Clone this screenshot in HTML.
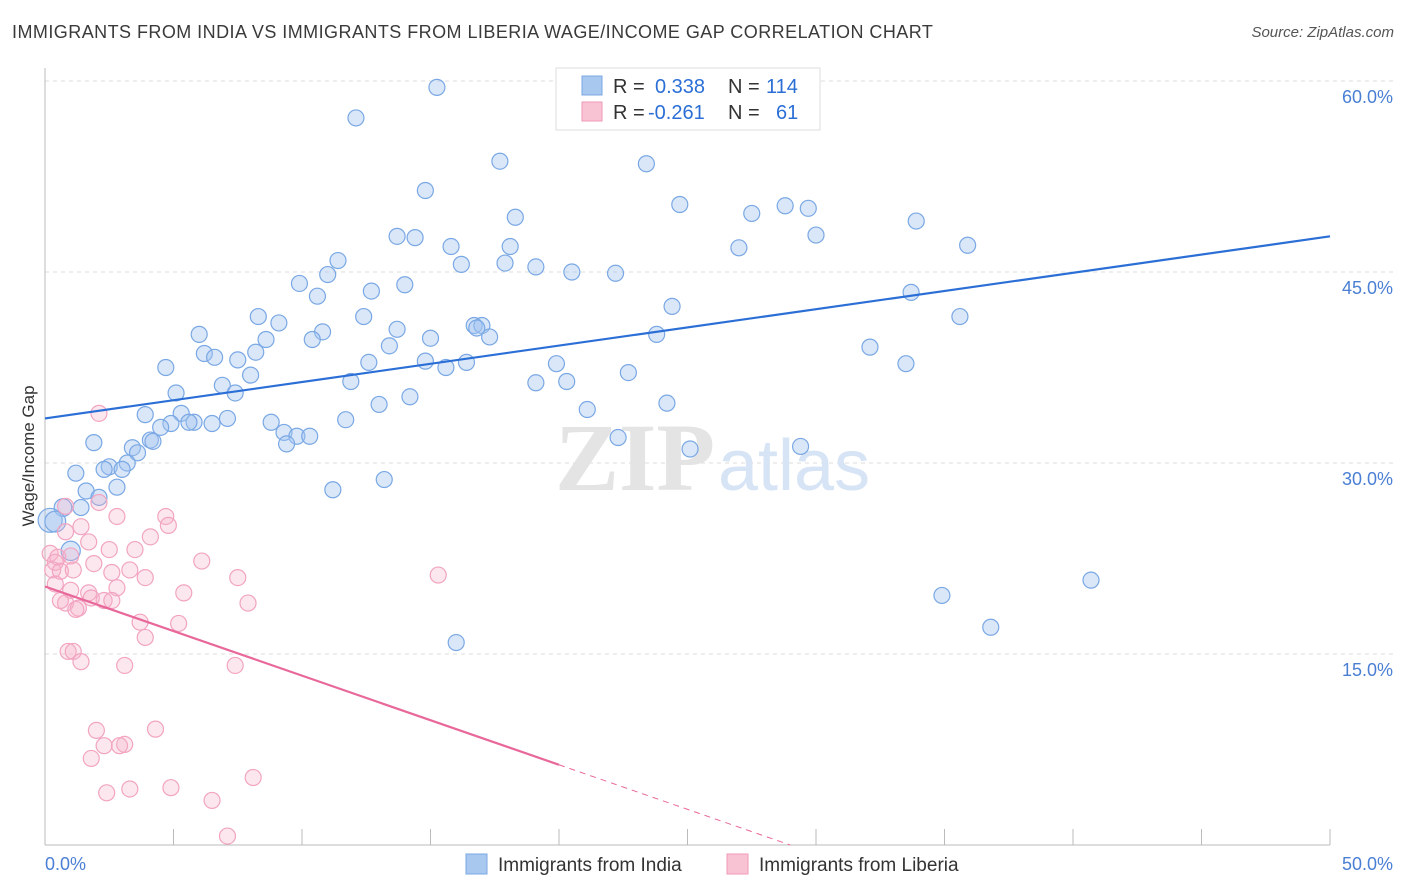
<!DOCTYPE html>
<html><head><meta charset="utf-8"><style>
body{margin:0;background:#fff;font-family:"Liberation Sans",sans-serif;}
#wrap{position:relative;width:1406px;height:892px;overflow:hidden;}
.t{position:absolute;white-space:nowrap;}
</style></head><body>
<div id="wrap">
<div class="t" style="left:12px;top:22px;font-size:18px;letter-spacing:0.45px;color:#3a3a3a;">IMMIGRANTS FROM INDIA VS IMMIGRANTS FROM LIBERIA WAGE/INCOME GAP CORRELATION CHART</div>
<div class="t" style="right:12px;top:24px;font-size:15px;color:#555;font-style:italic;">Source: ZipAtlas.com</div>
<svg id="svg" width="1406" height="892" style="position:absolute;left:0;top:0"></svg>
</div>
<script>
const xTicks=[0,5,10,15,20,25,30,35,40,45,50];
const yTicks=[15,30,45,60];
const indiaX=[15.25,12.1,17.7,23.4,14.8,24.7,18.3,27.5,28.8,29.7,33.9,13.7,14.4,15.8,18.1,30.0,27.0,35.9,16.2,17.9,19.1,20.5,22.2,11.4,11.0,9.9,10.6,12.7,14.0,33.7,24.4,35.6,8.3,9.1,12.4,13.7,10.8,10.4,15.0,16.7,17.0,16.8,17.3,23.8,6.0,8.6,13.4,6.2,6.6,8.2,32.1,7.5,12.6,14.8,15.6,16.4,19.9,33.5,4.7,8.0,11.9,6.9,19.1,20.3,22.7,5.1,7.4,14.2,13.0,21.1,24.2,3.9,5.3,7.1,4.9,6.5,4.5,5.8,5.6,11.7,8.8,9.3,9.8,10.3,9.4,1.9,22.3,4.1,4.2,3.4,3.6,29.4,25.1,3.2,2.5,2.3,3.0,1.2,2.8,1.6,13.2,11.2,2.1,1.4,0.7,0.2,0.4,1.0,40.7,34.9,36.8,16.0];
const indiaY=[59.5,57.1,53.7,53.5,51.4,50.3,49.3,49.6,50.2,50.0,49.0,47.8,47.7,47.0,47.0,47.9,46.9,47.1,45.6,45.7,45.4,45.0,44.9,45.9,44.8,44.1,43.1,43.5,44.0,43.4,42.3,41.5,41.5,41.0,41.5,40.5,40.3,39.7,39.8,40.8,40.8,40.6,39.9,40.1,40.1,39.7,39.2,38.6,38.3,38.7,39.1,38.1,37.9,38.0,37.5,37.9,37.8,37.8,37.5,36.9,36.4,36.1,36.3,36.4,37.1,35.5,35.5,35.2,34.6,34.2,34.7,33.8,33.9,33.5,33.1,33.1,32.8,33.2,33.2,33.4,33.2,32.4,32.1,32.1,31.5,31.6,32.0,31.8,31.7,31.2,30.8,31.3,31.1,30.0,29.7,29.5,29.5,29.2,28.1,27.8,28.7,27.9,27.3,26.5,26.5,25.5,25.4,23.1,20.8,19.6,17.1,15.9];
const indiaSize=[1,1,1,1,1,1,1,1,1,1,1,1,1,1,1,1,1,1,1,1,1,1,1,1,1,1,1,1,1,1,1,1,1,1,1,1,1,1,1,1,1,1,1,1,1,1,1,1,1,1,1,1,1,1,1,1,1,1,1,1,1,1,1,1,1,1,1,1,1,1,1,1,1,1,1,1,1,1,1,1,1,1,1,1,1,1,1,1,1,1,1,1,1,1,1,1,1,1,1,1,1,1,1,1,1.1,1.5,1.3,1.2,1,1,1,1];
const liberiaX=[2.1,0.8,2.1,2.8,4.7,4.8,4.1,0.8,1.4,1.7,2.5,3.5,0.2,0.5,1.0,0.4,0.3,0.6,1.1,1.9,2.6,3.3,3.9,6.1,7.5,15.3,1.0,1.7,2.8,5.4,0.8,1.8,2.3,2.6,1.3,1.2,7.9,3.7,5.2,3.9,0.9,1.1,1.4,3.1,7.4,2.0,4.3,2.3,3.1,2.9,1.8,2.4,3.3,4.9,6.5,8.1,7.1,0.6,0.4];
const liberiaY=[33.9,26.6,26.9,25.8,25.8,25.1,24.2,24.6,25.0,23.8,23.2,23.2,22.9,22.6,22.7,22.2,21.6,21.5,21.6,22.1,21.4,21.6,21.0,22.3,21.0,21.2,20.0,19.8,20.2,19.8,19.0,19.4,19.2,19.2,18.6,18.5,19.0,17.5,17.4,16.3,15.2,15.2,14.4,14.1,14.1,9.0,9.1,7.8,7.9,7.8,6.8,4.1,4.4,4.5,3.5,5.3,0.7,19.2,20.5];
const indiaTrend=[33.5,47.8];
const liberiaTrend=[20.3,6.3];
const legendR=["0.338","-0.261"];
const legendN=["114","61"];

const L=45,R=1330,T=81,B=845;
const sx=v=>L+(v/50)*(R-L);
const sy=v=>B-(v/60)*(B-T);
const svg=document.getElementById('svg');
const NS='http://www.w3.org/2000/svg';
function mk(tag,at){const e=document.createElementNS(NS,tag);for(const k in at)e.setAttribute(k,at[k]);svg.appendChild(e);return e;}
yTicks.forEach(v=>{
 const g=mk('line',{x1:L,x2:1395,y1:sy(v),y2:sy(v),stroke:'#dcdcdc','stroke-dasharray':'4,4'});
 
 
 const t=mk('text',{x:1393,y:sy(v)+22,'text-anchor':'end','font-size':18,fill:'#4a7fd4','font-family':'Liberation Sans'});
 t.textContent=v.toFixed(1)+'%';
 
 
});
const ax=mk('line',{x1:L,x2:L,y1:68,y2:B,stroke:'#bbb'});


const bx=mk('line',{x1:L,x2:R,y1:B,y2:B,stroke:'#bbb'});


xTicks.forEach(v=>{
 const k=mk('line',{x1:sx(v),x2:sx(v),y1:B-16,y2:B,stroke:'#bbb'});
 
 
});
[[0,'start',45],[50,'end',1393]].forEach(([v,a,x])=>{
 const t=mk('text',{x:x,y:870,'text-anchor':a,'font-size':18,fill:'#4a7fd4','font-family':'Liberation Sans'});
 t.textContent=v.toFixed(1)+'%';
 
 
});
const yt=mk('text',{x:0,y:0,transform:'translate(34,456) rotate(-90)','text-anchor':'middle','font-size':17,fill:'#333','font-family':'Liberation Sans'});
yt.textContent='Wage/Income Gap';


const wm=mk('text',{x:555,y:490,'font-size':96,fill:'#e4e4e4','font-family':'Liberation Serif','font-weight':'bold'});
wm.textContent='ZIP';


const wm2=mk('text',{x:718,y:490,'font-size':72,fill:'#d6e4f5','font-family':'Liberation Sans'});
wm2.textContent='atlas';


indiaX.forEach((x,i)=>{
 const c=mk('circle',{cx:sx(x),cy:sy(indiaY[i]),r:8*(indiaSize[i]||1),fill:'rgba(160,196,240,0.4)',stroke:'#7aa8e4','stroke-width':1.2});
 
 
});
liberiaX.forEach((x,i)=>{
 const c=mk('circle',{cx:sx(x),cy:sy(liberiaY[i]),r:8,fill:'rgba(245,175,198,0.3)',stroke:'#f2a4c0','stroke-width':1.2});
 
 
});
const tl=mk('line',{x1:sx(0),y1:sy(indiaTrend[0]),x2:sx(50),y2:sy(indiaTrend[1]),stroke:'#2b6fd6','stroke-width':2.2});


const ls=(liberiaTrend[1]-liberiaTrend[0])/20;
const lt=mk('line',{x1:sx(0),y1:sy(liberiaTrend[0]),x2:sx(20),y2:sy(liberiaTrend[1]),stroke:'#e8689a','stroke-width':2.2});


const x0=-liberiaTrend[0]/ls;
const ld=mk('line',{x1:sx(20),y1:sy(liberiaTrend[1]),x2:sx(x0),y2:sy(0),stroke:'#e8689a','stroke-width':1,'stroke-dasharray':'6,5'});


const lb=mk('rect',{x:556,y:68,width:264,height:62,fill:'#fff',stroke:'#ddd'});


[['#a9c8f0','#7aa8e4'],['#f8c4d4','#f09ab8']].forEach((c,i)=>{
 const y=76+i*26;
 const s=mk('rect',{x:582,y:y,width:20,height:19,fill:c[0],stroke:c[1]});
 
 
 const t=mk('text',{x:613,y:y+17,'font-size':20,fill:'#333','font-family':'Liberation Sans'});
 t.innerHTML='R = <tspan fill="#2b6fd6" x="'+(i?648:655)+'">'+legendR[i]+'</tspan>';
 
 
 const n=mk('text',{x:728,y:y+17,'font-size':20,fill:'#333','font-family':'Liberation Sans'});
 n.innerHTML='N = <tspan fill="#2b6fd6" x="'+(i?776:766)+'">'+legendN[i]+'</tspan>';
 
 
});
[['#a9c8f0','#7aa8e4','Immigrants from India',466],['#f8c4d4','#f09ab8','Immigrants from Liberia',727]].forEach(d=>{
 const s=mk('rect',{x:d[3],y:854,width:21,height:20,fill:d[0],stroke:d[1]});
 
 
 const t=mk('text',{x:d[3]+32,y:871,'font-size':19,fill:'#333','font-family':'Liberation Sans'});
 t.textContent=d[2];
 
 
});
</script>
</body></html>
